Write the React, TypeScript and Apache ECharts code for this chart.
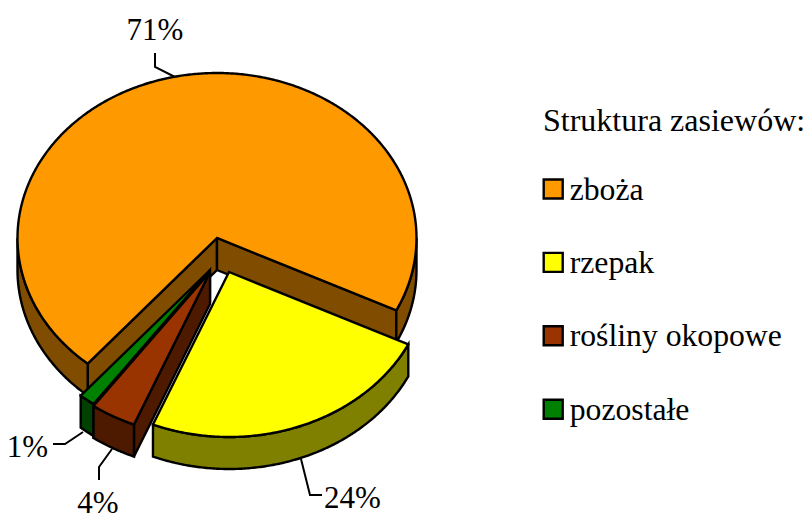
import React, { useEffect, useRef } from "react";
import * as echarts from "echarts";

const categories = ["zboża", "rzepak", "rośliny okopowe", "pozostałe"];
const shares = [71, 24, 3.7, 1.3];
const topColors = ["#FF9900", "#FFFF00", "#993300", "#008000"];
const wallColors = ["#804C00", "#808000", "#4D1A00", "#004000"];
const legendTitle = "Struktura zasiewów:";

// Layout only
const CX = 217;
const CY = 238;
const RX = 199.5;
const RY = 165;
const DEPTH = 32;
const START_ANGLE = 130.4;
const FONT = '"Liberation Serif", "Times New Roman", serif';
const explode = [[0, 0], [12, 34], [-7, 34], [-7, 32]];
const stacking = [1, 2, 4, 3];
const leaders = [
  [[155, 53], [155, 67], [175, 77]],
  [[301, 459], [310, 495], [322, 495]],
  [[112, 449], [99, 467], [99, 480]],
  [[83, 432], [65, 444], [53, 444]],
];
const labelSpots = [[155, 29], [352.5, 497], [98, 502], [27.5, 446]];

const total = shares.reduce((a, b) => a + b, 0);
const sumBefore = (i: number) => shares.slice(0, i).reduce((a, b) => a + b, 0);

function arcPoints(cx: number, cy: number, a0: number, a1: number) {
  const pts: number[][] = [];
  const n = Math.max(1, Math.ceil(Math.abs(a1 - a0) / 0.5));
  for (let k = 0; k <= n; k++) {
    const t = ((a0 + ((a1 - a0) * k) / n) * Math.PI) / 180;
    pts.push([cx + RX * Math.cos(t), cy + RY * Math.sin(t)]);
  }
  return pts;
}

function makeRenderItem(i: number) {
  return (_params: any, api: any) => {
    const value = api.value(0) as number;
    const a0 = START_ANGLE + (sumBefore(i) / total) * 360;
    const a1 = a0 + (value / total) * 360;
    const cx = CX + explode[i][0];
    const cy = CY + explode[i][1];
    const line = { stroke: "#000", lineWidth: 2.4, lineJoin: "miter" };
    const wall = { ...line, fill: wallColors[i] };
    const children: any[] = [];

    children.push({
      type: "polyline",
      shape: { points: leaders[i] },
      style: { stroke: "#000", lineWidth: 2, fill: "none" },
    });

    const cutWall = (angle: number, normal: number) => {
      if (Math.sin((normal * Math.PI) / 180) <= 0) return;
      const t = (angle * Math.PI) / 180;
      const x = cx + RX * Math.cos(t);
      const y = cy + RY * Math.sin(t);
      children.push({
        type: "polygon",
        shape: { points: [[cx, cy], [x, y], [x, y + DEPTH], [cx, cy + DEPTH]] },
        style: wall,
      });
    };
    cutWall(a0, a0 - 90);
    cutWall(a1, a1 + 90);

    for (const [lo, hi] of [[0, 180], [360, 540]]) {
      const b0 = Math.max(a0, lo);
      const b1 = Math.min(a1, hi);
      if (b1 <= b0) continue;
      const upper = arcPoints(cx, cy, b0, b1);
      const lower = arcPoints(cx, cy + DEPTH, b1, b0);
      children.push({
        type: "polygon",
        shape: { points: upper.concat(lower) },
        style: wall,
      });
    }

    children.push({
      type: "polygon",
      shape: { points: [[cx, cy], ...arcPoints(cx, cy, a0, a1)] },
      style: { ...line, fill: topColors[i] },
    });

    children.push({
      type: "text",
      style: {
        text: `${Math.round(value)}%`,
        x: labelSpots[i][0],
        y: labelSpots[i][1],
        fill: "#000",
        fontSize: 31,
        fontFamily: FONT,
        align: "center",
        verticalAlign: "middle",
      },
    });
    return { type: "group", children };
  };
}

export default function App() {
  const ref = useRef<HTMLDivElement>(null);
  useEffect(() => {
    document.body.style.margin = "0";
    const chart = echarts.init(ref.current!, null, { renderer: "svg" });
    chart.setOption({
      animation: false,
      backgroundColor: "#fff",
      title: {
        text: legendTitle,
        left: 543,
        top: 104,
        padding: 0,
        textStyle: { fontFamily: FONT, fontSize: 32, fontWeight: "normal", color: "#000" },
      },
      legend: {
        orient: "vertical",
        left: 542.5,
        top: 173,
        padding: 0,
        data: categories,
        icon: "rect",
        itemWidth: 19,
        itemHeight: 19,
        itemGap: 41.4,
        selectedMode: false,
        itemStyle: { borderColor: "#000", borderWidth: 2.4 },
        textStyle: { fontFamily: FONT, fontSize: 31.7, color: "#000", padding: [0, 0, 0, 2] },
      },
      series: categories.map((name, i) => ({
        type: "custom",
        name,
        coordinateSystem: "none",
        silent: true,
        z: stacking[i],
        itemStyle: { color: topColors[i] },
        data: [[shares[i]]],
        renderItem: makeRenderItem(i),
      })),
    });
    return () => chart.dispose();
  }, []);
  return <div ref={ref} style={{ width: 806, height: 518 }} />;
}
